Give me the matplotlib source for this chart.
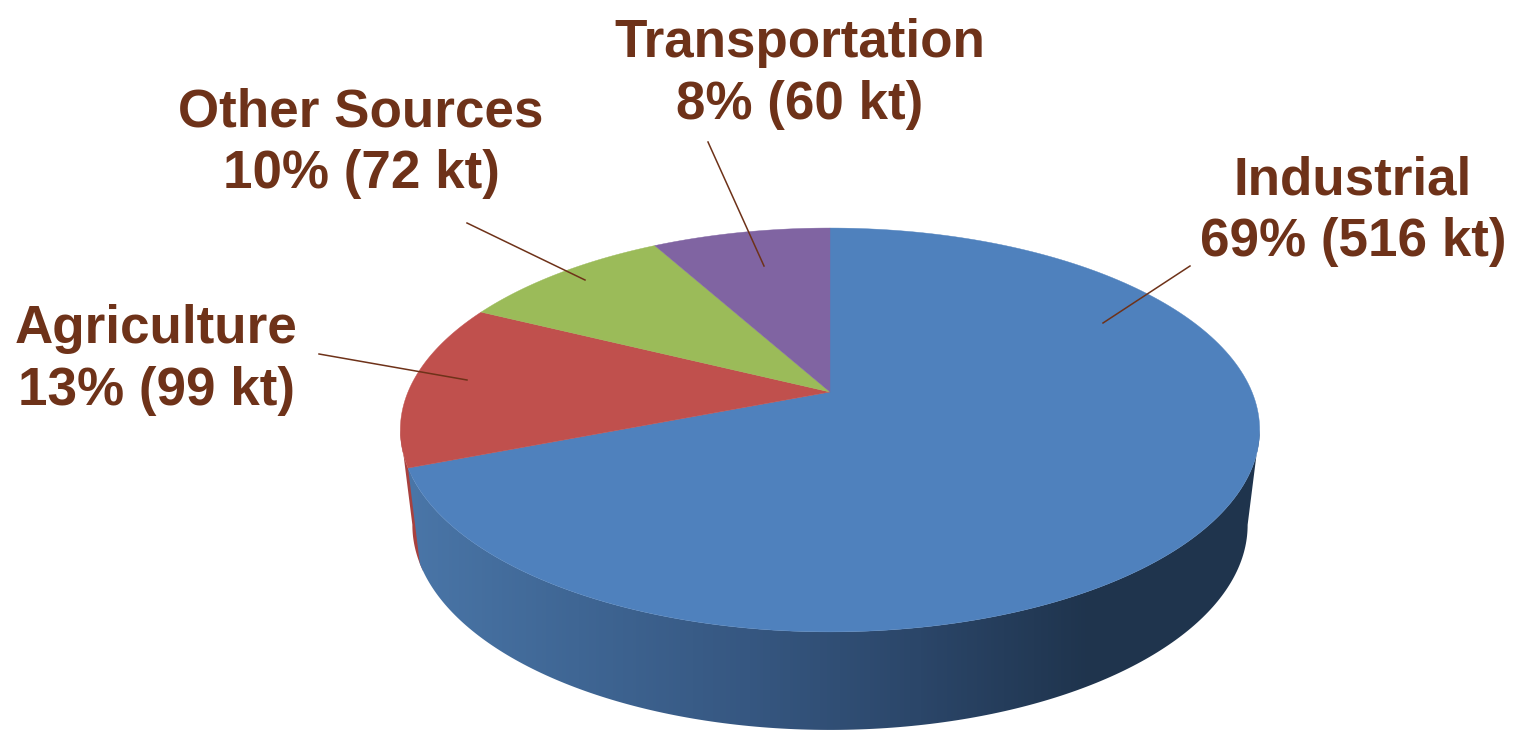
import numpy as np
import matplotlib
matplotlib.use("Agg")
import matplotlib.pyplot as plt
from matplotlib.colors import LinearSegmentedColormap
from matplotlib.patches import Polygon

sources = ["Industrial", "Agriculture", "Other Sources", "Transportation"]
kilotons = [516, 99, 72, 60]
percents = [69, 13, 10, 8]
colors = ["#4f81bd", "#c0504d", "#9bbb59", "#8064a2"]
text_color = "#6e3219"

# label centre and leader line (pixels of the picture)
label_xy = [(1353, 211), (156, 360), (361, 143), (800, 74)]
leaders = [((1190, 266), (1103, 323)), ((319, 354), (467, 380)),
           ((467, 223), (585, 280)), ((708, 142), (764, 266))]


def project(theta, r=1.0):
    # tilted disc: the centre sits above the middle of the ellipse
    t = np.radians(theta)
    x, y = r * np.cos(t), r * np.sin(t)
    w = 1 + 0.188 * y
    return 830 + 422 * x / w, (392 - 121.1 * y) / w


def bottom(theta):
    x, y = project(theta)
    return 830 + (x - 830) * 0.972, 525 + (y - 430) * 1.015


def wall(t1, t2):
    th = np.linspace(t1, t2, 200)
    x1, y1 = project(th)
    x2, y2 = bottom(th)
    return np.r_[np.c_[x1, y1], np.c_[x2, y2][::-1]]


fig = plt.figure(figsize=(15.13, 7.3), dpi=100)
ax = fig.add_axes([0, 0, 1, 1])
wedges, _ = ax.pie(kilotons, startangle=90, counterclock=False)
slices = [(w.theta1, w.theta2) for w in wedges]
for w in wedges:
    w.remove()

# side wall of the red slice, only a sliver shows
t_blue = slices[0][0]
ax.add_patch(Polygon(wall(-169.2, t_blue + 2), closed=True,
                     fc="#a8413e", ec="none", zorder=1))

# blue side wall with horizontal shading
shade = LinearSegmentedColormap.from_list(
    "shade", ["#4a76a8", "#3f6694", "#365781", "#2b4669", "#1f344d", "#1f344d"])
side = Polygon(wall(t_blue, -10.8), closed=True, fc="none", ec="none",
               transform=ax.transData)
ax.add_patch(side)
img = ax.imshow(np.linspace(0, 1, 256)[None, :], cmap=shade, aspect="auto",
                extent=(405, 1262, 735, 420), zorder=2)
img.set_clip_path(side)

# top face
for (t1, t2), c in zip(slices, colors):
    x, y = project(np.linspace(t1, t2, 200))
    pts = np.r_[[project(0, 0)], np.c_[x, y]]
    ax.add_patch(Polygon(pts, closed=True, fc=c, ec=c, lw=0.3, zorder=3))

for name, pct, kt, (lx, ly) in zip(sources, percents, kilotons, label_xy):
    ax.text(lx, ly, f"{name}\n{pct}% ({kt} kt)", color=text_color, ha="center",
            va="center", multialignment="center", fontsize=38.2,
            fontweight="bold", family="Liberation Sans", linespacing=1.29, zorder=5)

for (a, b) in leaders:
    ax.plot([a[0], b[0]], [a[1], b[1]], color=text_color, lw=1.1, zorder=4)

ax.set_aspect("auto")
ax.set_xlim(0, 1513)
ax.set_ylim(730, 0)
ax.axis("off")
fig.savefig("out.png", dpi=100, facecolor="white")
